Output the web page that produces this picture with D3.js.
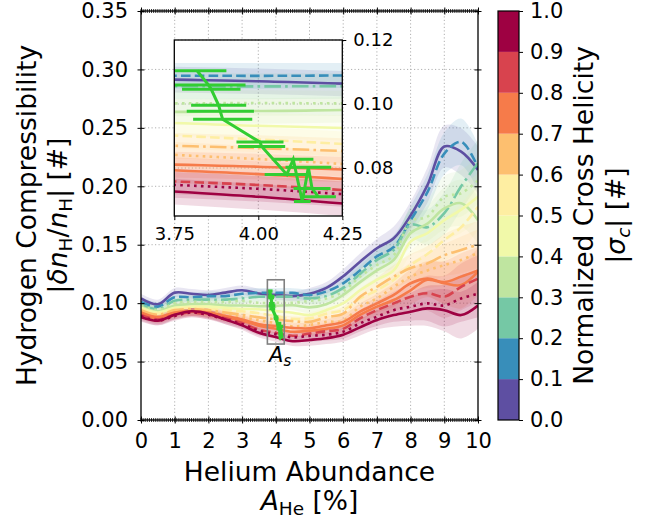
<!DOCTYPE html>
<html>
<head>
<meta charset="utf-8">
<script src="https://cdnjs.cloudflare.com/ajax/libs/d3/7.8.5/d3.min.js"></script>
<style>
body{margin:0;background:#fff}
svg{font-family:"DejaVu Sans",sans-serif;display:block}
</style>
</head>
<body>
<svg width="651" height="520"></svg>
<script>
// helium abundance grid [%]
const abundance = [0,0.5,1,1.5,2,2.5,3,3.5,4,4.5,5,5.5,6,6.5,7,7.5,8,8.5,9,9.5,10]

// colour bin of each curve (0..9 -> |sigma_c| 0.0-0.1 ... 0.9-1.0) and its line style
const curveBin = [0,1,2,3,3,4,5,6,6,7,7,8,9,9]
const curveStyle = ['solid','dashed','dashdot','dotted','solid','solid','dashed','dashdot','dotted','solid','solid','dashed','dotted','solid']

// hydrogen compressibility per curve
const compress = [
  [0.104,0.099,0.109,0.108,0.107,0.109,0.111,0.1083,0.1071,0.1060,0.108,0.113,0.123,0.1355,0.147,0.1555,0.175,0.201,0.234,0.2296,0.214],
  [0.101,0.097,0.105,0.105,0.106,0.106,0.108,0.1088,0.1088,0.1088,0.107,0.110,0.117,0.128,0.140,0.148,0.171,0.195,0.228,0.238,0.216],
  [0.099,0.095,0.102,0.103,0.103,0.103,0.104,0.1055,0.1055,0.1055,0.104,0.106,0.113,0.125,0.137,0.1455,0.167,0.165,0.177,0.200,0.220],
  [0.098,0.094,0.100,0.101,0.101,0.101,0.102,0.1003,0.1003,0.1003,0.102,0.104,0.110,0.1227,0.1326,0.141,0.170,0.174,0.191,0.194,0.205],
  [0.097,0.093,0.098,0.099,0.099,0.098,0.098,0.0974,0.0978,0.0982,0.0964,0.099,0.107,0.118,0.128,0.137,0.160,0.168,0.181,0.1855,0.171],
  [0.096,0.092,0.096,0.097,0.097,0.096,0.095,0.0948,0.0932,0.0918,0.0898,0.094,0.100,0.111,0.120,0.128,0.1526,0.160,0.171,0.180,0.191],
  [0.095,0.091,0.095,0.096,0.095,0.094,0.093,0.0913,0.0889,0.0865,0.087,0.091,0.094,0.104,0.111,0.120,0.1326,0.142,0.154,0.165,0.1825],
  [0.094,0.090,0.094,0.095,0.094,0.092,0.090,0.0878,0.0862,0.0846,0.084,0.088,0.091,0.1055,0.114,0.1227,0.130,0.134,0.141,0.1455,0.150],
  [0.093,0.089,0.093,0.094,0.093,0.090,0.088,0.0854,0.0828,0.0802,0.0813,0.084,0.085,0.097,0.104,0.114,0.1227,0.128,0.1326,0.137,0.143],
  [0.092,0.088,0.092,0.093,0.092,0.089,0.086,0.0820,0.0804,0.0788,0.0784,0.081,0.084,0.0927,0.0998,0.107,0.117,0.121,0.118,0.1227,0.128],
  [0.091,0.087,0.091,0.093,0.091,0.088,0.085,0.0807,0.0781,0.0755,0.0764,0.078,0.081,0.0899,0.097,0.1027,0.111,0.120,0.117,0.1155,0.127],
  [0.090,0.086,0.090,0.092,0.090,0.087,0.083,0.0773,0.0747,0.0721,0.074,0.076,0.078,0.087,0.094,0.0998,0.1055,0.1085,0.1055,0.114,0.121],
  [0.089,0.085,0.089,0.092,0.090,0.086,0.082,0.0763,0.0735,0.0707,0.072,0.073,0.0755,0.0827,0.0884,0.094,0.097,0.0998,0.098,0.104,0.108],
  [0.088,0.085,0.090,0.093,0.091,0.086,0.081,0.0746,0.0710,0.0674,0.0685,0.070,0.073,0.0793,0.0856,0.0898,0.0927,0.0955,0.094,0.0898,0.098]
]
// half width of the shaded bands
const spread = [0.004,0.004,0.004,0.004,0.004,0.004,0.004,0.004,0.004,0.004,0.005,0.005,0.006,0.007,0.008,0.010,0.012,0.015,0.018,0.020,0.020]

// A_s points with horizontal error
const asX = [3.818,3.852,3.860,3.882,3.887,3.894,4.005,4.010,4.085,4.104,4.131,4.149,4.160,4.179]
const asY = [0.1104,0.1059,0.1046,0.0996,0.0977,0.0952,0.0881,0.0867,0.0780,0.0827,0.0695,0.0802,0.0736,0.0710]
const asErr = [0.087,0.11,0.087,0.082,0.10,0.088,0.07,0.07,0.066,0.06,0.025,0.068,0.055,0.052]

const xTicks = [0,1,2,3,4,5,6,7,8,9,10]
const yTicks = [0,0.05,0.1,0.15,0.2,0.25,0.3,0.35]
const cbTicks = [0,0.1,0.2,0.3,0.4,0.5,0.6,0.7,0.8,0.9,1]
const insetXTicks = [3.75,4.0,4.25]
const insetYTicks = [0.08,0.1,0.12]

const binColors = ['#5e4fa2','#388eba','#75c8a5','#bfe5a0','#f1f9a9','#feeea2','#fdbf6f','#f67b4a','#d8434e','#9e0142']
const green = '#32cd32'
const lw = 2.6
const dashFor = {solid:null, dashed:[9.6,4.2], dashdot:[16.6,4.2,2.6,4.2], dotted:[2.6,4.3]}

const svg = d3.select('svg')
const x = d3.scaleLinear([0,10],[141,478])
const y = d3.scaleLinear([0,0.35],[420,11])
const ix = d3.scaleLinear([3.75,4.25],[174.3,342.3])
const iy = d3.scaleLinear([0.065,0.12],[216,40])
const cy = d3.scaleLinear([0,1],[420,11])

const defs = svg.append('defs')
defs.append('clipPath').attr('id','clipMain').append('rect')
  .attr('x',141).attr('y',11).attr('width',337).attr('height',409)
defs.append('clipPath').attr('id','clipInset').append('rect')
  .attr('x',174.3).attr('y',40).attr('width',168).attr('height',176)

function gridLines(g, xs, ys, sx, sy){
  g.selectAll('.gx').data(xs).enter().append('line')
    .attr('x1',d => sx(d)).attr('x2',d => sx(d))
    .attr('y1',sy.range()[0]).attr('y2',sy.range()[1])
  g.selectAll('.gy').data(ys).enter().append('line')
    .attr('y1',d => sy(d)).attr('y2',d => sy(d))
    .attr('x1',sx.range()[0]).attr('x2',sx.range()[1])
  g.selectAll('line').attr('stroke','#b0b0b0').attr('stroke-width',1).attr('stroke-dasharray','1.2,2.3')
}

function drawCurves(g, sx, sy){
  const area = d3.area()
    .x((d,i) => sx(abundance[i]))
    .y0((d,i) => sy(d - spread[i]))
    .y1((d,i) => sy(d + spread[i]))
    .curve(d3.curveCatmullRom)
  const line = d3.line()
    .x((d,i) => sx(abundance[i]))
    .y(d => sy(d))
    .curve(d3.curveCatmullRom)
  g.append('g').selectAll('path').data(compress)
    .enter().append('path')
    .attr('d',area)
    .attr('fill',(d,k) => binColors[curveBin[k]])
    .attr('fill-opacity',0.14)
  g.append('g').selectAll('path').data(compress)
    .enter().append('path')
    .attr('d',line)
    .attr('fill','none')
    .attr('stroke',(d,k) => binColors[curveBin[k]])
    .attr('stroke-width',lw)
    .attr('stroke-dasharray',(d,k) => dashFor[curveStyle[k]])
}

function drawAs(g, sx, sy, w){
  const pts = asX.map((v,i) => [v,asY[i],asErr[i]])
  g.append('path')
    .attr('d',d3.line().x(d => sx(d[0])).y(d => sy(d[1]))(pts))
    .attr('fill','none').attr('stroke',green).attr('stroke-width',w)
  g.selectAll('.bar').data(pts).enter().append('line')
    .attr('x1',d => sx(d[0]-d[2])).attr('x2',d => sx(d[0]+d[2]))
    .attr('y1',d => sy(d[1])).attr('y2',d => sy(d[1]))
    .attr('stroke',green).attr('stroke-width',w)
}

/* Main axes */
const main = svg.append('g')
main.call(gridLines, xTicks.slice(1,-1), yTicks.slice(1,-1), x, y)
const plot = main.append('g').attr('clip-path','url(#clipMain)')
plot.call(drawCurves, x, y)
plot.call(drawAs, x, y, 3.2)

main.append('rect')
  .attr('x',x(3.75)).attr('y',y(0.12))
  .attr('width',x(4.25)-x(3.75)).attr('height',y(0.065)-y(0.12))
  .attr('fill','none').attr('stroke','#808080').attr('stroke-width',1.6)

const asLabel = main.append('text').attr('x',269).attr('y',362).attr('font-size',21)
asLabel.append('tspan').attr('font-style','italic').text('A')
asLabel.append('tspan').attr('font-style','italic').attr('font-size',15).attr('dy',4).text('s')

main.append('rect').attr('x',141).attr('y',11).attr('width',337).attr('height',409)
  .attr('fill','none').attr('stroke','#000').attr('stroke-width',1.3)

// minor ticks along x (top and bottom)
const minor = d3.range(0,161).map(i => i/16)
main.append('g').selectAll('line').data(minor.concat(minor))
  .enter().append('line')
  .attr('x1',d => x(d)).attr('x2',d => x(d))
  .attr('y1',(d,i) => i < minor.length ? 418 : 9)
  .attr('y2',(d,i) => i < minor.length ? 422 : 13)
  .attr('stroke','#000').attr('stroke-width',0.8)

function inout(g, dir){
  g.select('.domain').remove()
  g.selectAll('.tick line').attr('stroke','#000').attr('stroke-width',1)
  if(dir == 'v') g.selectAll('.tick line').attr('y1',-3.5).attr('y2',3.5)
  else g.selectAll('.tick line').attr('x1',-3.5).attr('x2',3.5)
  g.selectAll('text').attr('font-family','DejaVu Sans').attr('fill','#000')
}

main.append('g').attr('transform','translate(0,420)')
  .call(d3.axisBottom(x).tickValues(xTicks).tickFormat(d3.format('d')).tickSize(0).tickPadding(13))
  .call(inout,'v').attr('font-size',21)
main.append('g').attr('transform','translate(0,11)')
  .call(d3.axisTop(x).tickValues(xTicks).tickFormat('').tickSize(0))
  .call(inout,'v')
main.append('g').attr('transform','translate(141,0)')
  .call(d3.axisLeft(y).tickValues(yTicks).tickFormat(d3.format('.2f')).tickSize(0).tickPadding(13))
  .call(inout,'h').attr('font-size',21)
main.append('g').attr('transform','translate(478,0)')
  .call(d3.axisRight(y).tickValues(yTicks).tickFormat('').tickSize(0))
  .call(inout,'h')

/* Inset */
const inset = svg.append('g')
inset.append('rect').attr('x',174.3).attr('y',40).attr('width',168).attr('height',176).attr('fill','#fff')
inset.call(gridLines, [4.0], insetYTicks, ix, iy)
const iplot = inset.append('g').attr('clip-path','url(#clipInset)')
iplot.call(drawCurves, ix, iy)
iplot.call(drawAs, ix, iy, 3)
inset.append('rect').attr('x',174.3).attr('y',40).attr('width',168).attr('height',176)
  .attr('fill','none').attr('stroke','#000').attr('stroke-width',1.3)
inset.append('g').attr('transform','translate(0,216)')
  .call(d3.axisBottom(ix).tickValues(insetXTicks).tickFormat(d3.format('.2f')).tickSize(4).tickPadding(7))
  .call(g => { g.select('.domain').remove(); g.selectAll('text').attr('fill','#000') })
  .attr('font-size',18).attr('font-family','DejaVu Sans')
inset.append('g').attr('transform','translate(342.3,0)')
  .call(d3.axisRight(iy).tickValues(insetYTicks).tickFormat(d3.format('.2f')).tickSize(4).tickPadding(7))
  .call(g => { g.select('.domain').remove(); g.selectAll('text').attr('fill','#000') })
  .attr('font-size',18).attr('font-family','DejaVu Sans')

/* Colorbar */
const cb = svg.append('g')
cb.selectAll('rect').data(binColors).enter().append('rect')
  .attr('x',498).attr('width',21)
  .attr('y',(d,i) => cy((i+1)/10)).attr('height',(d,i) => cy(i/10)-cy((i+1)/10))
  .attr('fill',d => d)
cb.append('rect').attr('x',498).attr('y',11).attr('width',21).attr('height',409)
  .attr('fill','none').attr('stroke','#000').attr('stroke-width',1.2)
cb.append('g').attr('transform','translate(519,0)')
  .call(d3.axisRight(cy).tickValues(cbTicks).tickFormat(d3.format('.1f')).tickSize(4).tickPadding(7))
  .call(g => { g.select('.domain').remove(); g.selectAll('text').attr('fill','#000') })
  .attr('font-size',21).attr('font-family','DejaVu Sans')

/* Axis labels */
const labelSize = 26.5
svg.append('text').attr('x',309.5).attr('y',481).attr('text-anchor','middle')
  .attr('font-size',labelSize).text('Helium Abundance')
const xl2 = svg.append('text').attr('x',309.5).attr('y',510).attr('text-anchor','middle').attr('font-size',labelSize)
xl2.append('tspan').attr('font-style','italic').text('A')
xl2.append('tspan').attr('font-size',18.5).attr('dy',5).text('He')
xl2.append('tspan').attr('dy',-5).text(' [%]')

svg.append('text').attr('transform','translate(35.5,215.5) rotate(-90)').attr('text-anchor','middle')
  .attr('font-size',labelSize).text('Hydrogen Compressibility')
const yl2 = svg.append('text').attr('transform','translate(67,215.5) rotate(-90)').attr('text-anchor','middle').attr('font-size',labelSize)
yl2.append('tspan').text('|')
yl2.append('tspan').attr('font-style','italic').text('δn')
yl2.append('tspan').attr('font-size',18.5).attr('dy',5).text('H')
yl2.append('tspan').attr('dy',-5).text('/')
yl2.append('tspan').attr('font-style','italic').text('n')
yl2.append('tspan').attr('font-size',18.5).attr('dy',5).text('H')
yl2.append('tspan').attr('dy',-5).text('| [#]')

svg.append('text').attr('transform','translate(593,215.5) rotate(-90)').attr('text-anchor','middle')
  .attr('font-size',labelSize).text('Normalized Cross Helicity')
const cl2 = svg.append('text').attr('transform','translate(625,215.5) rotate(-90)').attr('text-anchor','middle').attr('font-size',labelSize)
cl2.append('tspan').text('|')
cl2.append('tspan').attr('font-style','italic').text('σ')
cl2.append('tspan').attr('font-style','italic').attr('font-size',18.5).attr('dy',5).text('c')
cl2.append('tspan').attr('dy',-5).text('| [#]')
</script>
</body>
</html>
